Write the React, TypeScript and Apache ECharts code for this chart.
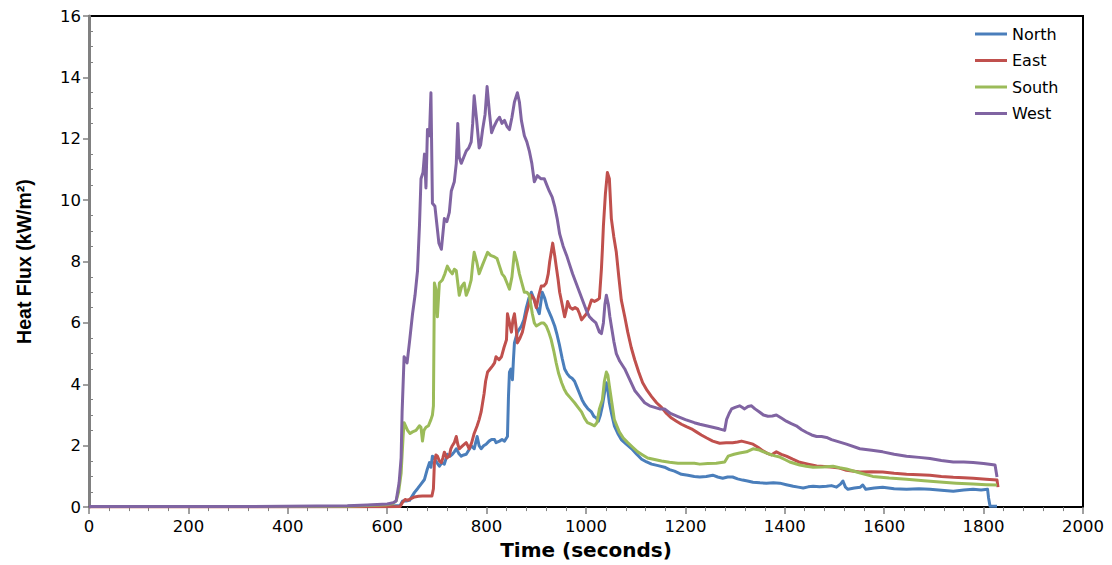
import React, { useEffect, useRef } from "react";
import * as echarts from "echarts";

// Heat flux readings [time (s), kW/m²] for the four gauges
const north: [number, number][] = [
  [0, 0.02], [300, 0.02], [600, 0.03], [626, 0.05], [631, 0.2], [638, 0.2], [645, 0.22], [650, 0.35],
  [655, 0.48], [661, 0.6], [668, 0.75], [675, 0.9], [680, 1.2], [685, 1.45], [688, 1.3], [691, 1.66],
  [695, 1.6], [698, 1.5], [705, 1.33], [710, 1.45], [715, 1.4], [721, 1.72], [726, 1.65], [731, 1.72],
  [735, 1.8], [739, 1.9], [744, 1.75], [749, 1.66], [754, 1.7], [759, 1.72], [764, 1.85], [769, 2.0],
  [775, 1.9], [778, 2.1], [781, 2.3], [785, 2.0], [789, 1.9], [794, 2.0], [799, 2.05], [805, 2.15],
  [810, 2.2], [816, 2.2], [819, 2.1], [826, 2.15], [831, 2.2], [836, 2.15], [840, 2.25], [842, 2.3],
  [844, 3.6], [846, 4.4], [849, 4.5], [852, 4.15], [854, 4.8], [856, 5.35], [862, 5.7], [866, 5.8],
  [870, 5.9], [875, 6.1], [880, 6.5], [885, 6.8], [890, 7.0], [896, 6.75], [901, 6.5], [906, 6.3],
  [912, 7.0], [917, 6.8], [922, 6.5], [930, 6.2], [937, 5.9], [942, 5.6], [947, 5.25], [952, 4.85],
  [957, 4.5], [962, 4.35], [967, 4.25], [972, 4.2], [977, 4.1], [982, 3.9], [987, 3.7], [992, 3.5],
  [997, 3.35], [1004, 3.2], [1011, 3.1], [1016, 2.95], [1021, 2.9], [1025, 2.8], [1029, 3.0], [1033, 3.3],
  [1037, 3.7], [1041, 4.05], [1044, 3.8], [1047, 3.4], [1052, 3.0], [1057, 2.65], [1064, 2.4], [1071, 2.2],
  [1081, 2.05], [1092, 1.9], [1102, 1.72], [1112, 1.56], [1122, 1.47], [1132, 1.4], [1145, 1.35], [1158, 1.3],
  [1168, 1.22], [1178, 1.17], [1192, 1.07], [1205, 1.04], [1218, 1.0], [1229, 0.98], [1242, 1.0], [1255, 1.04],
  [1265, 0.98], [1275, 0.94], [1285, 0.98], [1295, 0.98], [1305, 0.92], [1315, 0.88], [1325, 0.85], [1336, 0.81],
  [1350, 0.79], [1363, 0.78], [1377, 0.79], [1390, 0.78], [1403, 0.73], [1417, 0.68], [1427, 0.65], [1437, 0.62],
  [1447, 0.66], [1457, 0.68], [1470, 0.66], [1484, 0.68], [1494, 0.7], [1504, 0.65], [1512, 0.75], [1517, 0.85],
  [1522, 0.65], [1527, 0.58], [1540, 0.62], [1552, 0.65], [1557, 0.72], [1563, 0.58], [1580, 0.62], [1597, 0.65],
  [1620, 0.6], [1645, 0.58], [1670, 0.6], [1692, 0.58], [1715, 0.55], [1739, 0.52], [1760, 0.56], [1779, 0.58],
  [1795, 0.56], [1808, 0.58], [1810, 0.3], [1813, 0.03], [1827, 0.03],
];

const east: [number, number][] = [
  [0, 0.0], [300, 0.0], [600, 0.01], [626, 0.02], [631, 0.16], [636, 0.25], [641, 0.22], [648, 0.28],
  [655, 0.33], [663, 0.35], [671, 0.36], [680, 0.36], [690, 0.36], [693, 0.6], [695, 1.45], [698, 1.7],
  [701, 1.66], [705, 1.5], [709, 1.45], [712, 1.6], [715, 1.79], [720, 1.6], [725, 1.66], [728, 1.9],
  [731, 2.0], [735, 2.1], [739, 2.3], [742, 2.05], [745, 1.9], [752, 2.0], [759, 2.1], [762, 2.0],
  [765, 1.9], [770, 2.1], [775, 2.4], [781, 2.65], [785, 2.85], [789, 3.1], [792, 3.4], [795, 3.7],
  [798, 4.1], [802, 4.4], [807, 4.5], [812, 4.6], [816, 4.7], [819, 4.9], [825, 4.8], [830, 4.9],
  [835, 5.2], [840, 5.45], [842, 6.3], [846, 6.0], [850, 5.7], [853, 6.1], [856, 6.3], [859, 5.9],
  [862, 5.35], [867, 5.5], [872, 5.7], [876, 6.0], [880, 6.3], [885, 6.6], [890, 6.9], [895, 6.8],
  [900, 6.5], [905, 6.9], [910, 7.2], [915, 7.2], [920, 7.3], [924, 7.6], [927, 8.0], [930, 8.3],
  [933, 8.6], [937, 8.2], [940, 7.85], [944, 7.4], [947, 7.0], [952, 6.6], [957, 6.2], [960, 6.4],
  [963, 6.7], [968, 6.5], [973, 6.45], [978, 6.5], [983, 6.45], [987, 6.3], [991, 6.1], [996, 6.2],
  [1001, 6.3], [1006, 6.5], [1011, 6.75], [1017, 6.7], [1023, 6.75], [1027, 6.8], [1031, 7.75], [1033, 8.4],
  [1035, 9.15], [1039, 10.2], [1043, 10.9], [1047, 10.7], [1051, 9.4], [1056, 8.8], [1061, 8.3], [1066, 7.5],
  [1071, 6.75], [1078, 6.2], [1084, 5.7], [1091, 5.2], [1098, 4.8], [1106, 4.4], [1114, 4.05], [1123, 3.8],
  [1132, 3.6], [1142, 3.4], [1152, 3.25], [1162, 3.05], [1172, 2.9], [1182, 2.8], [1192, 2.7], [1202, 2.62],
  [1212, 2.55], [1222, 2.45], [1232, 2.35], [1243, 2.25], [1255, 2.15], [1269, 2.08], [1282, 2.1], [1295, 2.1],
  [1305, 2.12], [1313, 2.15], [1325, 2.1], [1336, 2.05], [1346, 1.95], [1356, 1.83], [1365, 1.75], [1373, 1.7],
  [1378, 1.75], [1383, 1.8], [1393, 1.72], [1403, 1.66], [1416, 1.56], [1430, 1.46], [1447, 1.4], [1464, 1.34],
  [1480, 1.32], [1497, 1.3], [1510, 1.27], [1524, 1.2], [1551, 1.14], [1575, 1.15], [1597, 1.14], [1620, 1.1],
  [1645, 1.07], [1670, 1.05], [1692, 1.04], [1715, 1.0], [1739, 0.97], [1760, 0.96], [1779, 0.94], [1805, 0.91],
  [1827, 0.88], [1829, 0.65],
];

const south: [number, number][] = [
  [0, 0.02], [300, 0.02], [520, 0.03], [560, 0.05], [600, 0.08], [612, 0.12], [618, 0.2], [623, 0.5],
  [628, 1.1], [632, 2.3], [634, 2.75], [641, 2.5], [646, 2.4], [651, 2.45], [658, 2.5], [665, 2.65],
  [668, 2.6], [671, 2.15], [674, 2.5], [678, 2.6], [683, 2.65], [688, 2.85], [691, 3.0], [693, 3.3],
  [695, 7.3], [698, 7.1], [701, 6.2], [705, 7.3], [711, 7.4], [716, 7.6], [721, 7.85], [726, 7.7],
  [731, 7.6], [735, 7.75], [739, 7.7], [742, 7.3], [745, 6.9], [750, 7.2], [755, 7.3], [759, 6.9],
  [764, 7.1], [769, 7.4], [772, 7.9], [775, 8.3], [780, 8.0], [785, 7.6], [792, 7.9], [797, 8.1],
  [802, 8.3], [808, 8.2], [816, 8.15], [821, 8.1], [826, 7.85], [831, 7.6], [836, 7.5], [841, 7.3],
  [846, 7.1], [851, 7.5], [856, 8.3], [861, 8.0], [866, 7.6], [871, 7.3], [876, 7.0], [881, 7.0],
  [886, 6.9], [892, 6.3], [896, 6.0], [900, 5.9], [905, 5.95], [910, 6.0], [915, 6.0], [920, 5.9],
  [925, 5.7], [930, 5.45], [935, 5.1], [940, 4.7], [945, 4.35], [951, 4.05], [956, 3.85], [961, 3.7],
  [969, 3.55], [977, 3.4], [984, 3.25], [991, 3.1], [997, 2.9], [1003, 2.75], [1010, 2.7], [1017, 2.65],
  [1022, 2.75], [1027, 3.2], [1030, 3.35], [1033, 3.5], [1037, 4.1], [1041, 4.4], [1044, 4.3], [1047, 3.95],
  [1052, 3.4], [1057, 2.85], [1062, 2.65], [1067, 2.45], [1075, 2.25], [1084, 2.1], [1094, 1.95], [1104, 1.8],
  [1114, 1.7], [1124, 1.6], [1138, 1.55], [1152, 1.5], [1168, 1.46], [1185, 1.43], [1200, 1.43], [1218, 1.43],
  [1229, 1.4], [1245, 1.42], [1262, 1.43], [1279, 1.47], [1286, 1.66], [1298, 1.72], [1309, 1.76], [1323, 1.8],
  [1336, 1.9], [1349, 1.86], [1360, 1.78], [1370, 1.72], [1380, 1.67], [1390, 1.63], [1400, 1.55], [1410, 1.47],
  [1420, 1.42], [1430, 1.37], [1443, 1.33], [1457, 1.3], [1477, 1.31], [1497, 1.33], [1510, 1.28], [1524, 1.24],
  [1550, 1.12], [1577, 1.0], [1610, 0.95], [1645, 0.91], [1680, 0.86], [1712, 0.82], [1745, 0.78], [1779, 0.75],
  [1805, 0.73], [1827, 0.72],
];

const west: [number, number][] = [
  [0, 0.02], [300, 0.02], [520, 0.04], [560, 0.07], [600, 0.1], [612, 0.14], [618, 0.2], [624, 0.8],
  [628, 1.6], [630, 3.1], [634, 4.9], [640, 4.7], [645, 5.4], [651, 6.3], [656, 6.9], [661, 7.7],
  [665, 9.2], [668, 10.7], [672, 10.9], [675, 11.5], [678, 10.4], [681, 12.3], [685, 12.1], [688, 13.5],
  [691, 9.9], [696, 9.8], [700, 9.2], [704, 8.6], [709, 8.4], [715, 9.4], [720, 9.3], [725, 9.6],
  [729, 10.3], [735, 10.6], [739, 11.2], [742, 12.5], [745, 11.4], [749, 11.2], [754, 11.4], [759, 11.6],
  [764, 11.7], [769, 11.9], [772, 12.5], [775, 13.4], [780, 12.6], [785, 11.7], [788, 11.8], [792, 12.3],
  [797, 12.8], [801, 13.7], [806, 12.8], [810, 12.2], [815, 12.4], [821, 12.6], [826, 12.7], [831, 12.5],
  [836, 12.6], [841, 12.4], [846, 12.3], [851, 12.7], [856, 13.2], [862, 13.5], [866, 13.2], [870, 12.6],
  [876, 12.1], [881, 11.9], [886, 11.6], [891, 11.2], [896, 10.6], [902, 10.8], [909, 10.7], [916, 10.7],
  [921, 10.5], [926, 10.3], [932, 10.1], [937, 9.8], [942, 9.4], [947, 8.9], [954, 8.5], [961, 8.2],
  [967, 7.9], [973, 7.6], [980, 7.3], [987, 7.0], [994, 6.7], [1001, 6.4], [1007, 6.2], [1013, 6.1],
  [1020, 6.0], [1027, 5.7], [1031, 5.65], [1035, 6.0], [1038, 6.6], [1041, 6.9], [1045, 6.6], [1048, 6.2],
  [1051, 5.9], [1056, 5.4], [1061, 5.0], [1068, 4.75], [1078, 4.5], [1088, 4.15], [1098, 3.8], [1108, 3.6],
  [1118, 3.4], [1128, 3.3], [1138, 3.25], [1148, 3.2], [1158, 3.2], [1170, 3.05], [1185, 2.95], [1200, 2.85],
  [1218, 2.75], [1229, 2.7], [1242, 2.65], [1255, 2.6], [1268, 2.55], [1279, 2.5], [1283, 2.86], [1288, 3.05],
  [1293, 3.2], [1300, 3.25], [1309, 3.3], [1314, 3.25], [1319, 3.2], [1326, 3.28], [1333, 3.3], [1340, 3.2],
  [1349, 3.1], [1357, 3.0], [1366, 2.96], [1375, 2.97], [1383, 3.0], [1393, 2.9], [1403, 2.8], [1413, 2.72],
  [1423, 2.65], [1434, 2.52], [1444, 2.43], [1454, 2.35], [1464, 2.3], [1474, 2.3], [1484, 2.27], [1494, 2.2],
  [1504, 2.15], [1514, 2.1], [1524, 2.05], [1551, 1.9], [1575, 1.85], [1597, 1.8], [1620, 1.72], [1645, 1.66],
  [1670, 1.62], [1692, 1.58], [1715, 1.52], [1739, 1.47], [1760, 1.47], [1779, 1.45], [1800, 1.42], [1823, 1.37],
  [1827, 0.98],
];

const seriesNames = ["North", "East", "South", "West"];
const seriesColors = ["#4A7EBB", "#C0504D", "#9BBB59", "#8064A2"];
const seriesData = [north, east, south, west];

const xRange = { min: 0, max: 2000, interval: 200 };
const yRange = { min: 0, max: 16, interval: 2 };

export default function App() {
  const ref = useRef<HTMLDivElement>(null);

  useEffect(() => {
    if (!ref.current) return;
    const chart = echarts.init(ref.current, undefined, { renderer: "svg" });
    const numFont = "DejaVu Sans";

    chart.setOption({
      animation: false,
      backgroundColor: "#ffffff",
      grid: {
        left: 89,
        right: 29,
        top: 16,
        bottom: 57,
        show: true,
        borderColor: "#000000",
        borderWidth: 2,
        backgroundColor: "transparent",
      },
      legend: {
        orient: "vertical",
        left: 970,
        top: 21,
        itemWidth: 32,
        itemHeight: 3,
        itemGap: 10.5,
        icon: "rect",
        data: seriesNames,
        textStyle: { fontFamily: numFont, fontSize: 16, color: "#000", lineHeight: 16 },
      },
      xAxis: {
        type: "value",
        min: xRange.min,
        max: xRange.max,
        interval: xRange.interval,
        name: "Time (seconds)",
        nameLocation: "middle",
        nameGap: 17,
        nameTextStyle: { fontFamily: "DejaVu Sans", fontWeight: "bold", fontSize: 20, color: "#000" },
        axisLine: { show: true, onZero: false, lineStyle: { color: "#000", width: 2 } },
        axisTick: { show: true, length: 7, lineStyle: { color: "#808080", width: 1.5 } },
        minorTick: { show: true, splitNumber: 5, length: 4, lineStyle: { color: "#808080", width: 1 } },
        splitLine: { show: false },
        axisLabel: {
          fontFamily: numFont,
          fontSize: 16.5,
          color: "#000",
          margin: 11,
          formatter: (v: number) => String(v),
        },
      },
      yAxis: {
        type: "value",
        min: yRange.min,
        max: yRange.max,
        interval: yRange.interval,
        name: "Heat Flux (kW/m²)",
        nameLocation: "middle",
        nameGap: 55,
        nameTextStyle: { fontFamily: "Liberation Sans", fontWeight: "bold", fontSize: 19.5, color: "#000" },
        axisLine: { show: true, onZero: false, lineStyle: { color: "#808080", width: 3 } },
        axisTick: { show: true, length: 6, lineStyle: { color: "#808080", width: 1.5 } },
        minorTick: { show: true, splitNumber: 4, length: -4, lineStyle: { color: "#808080", width: 1 } },
        splitLine: { show: false },
        axisLabel: {
          fontFamily: numFont,
          fontSize: 16.5,
          color: "#000",
          margin: 8,
          formatter: (v: number) => String(v),
        },
      },
      series: seriesNames.map((name, i) => ({
        name,
        type: "line",
        data: seriesData[i],
        color: seriesColors[i],
        showSymbol: false,
        symbol: "none",
        lineStyle: { width: 3, color: seriesColors[i], join: "round" },
      })),
    });

    return () => chart.dispose();
  }, []);

  return (
    <div
      ref={ref}
      style={{ position: "fixed", left: 0, top: 0, width: 1112, height: 565, background: "#fff" }}
    />
  );
}
